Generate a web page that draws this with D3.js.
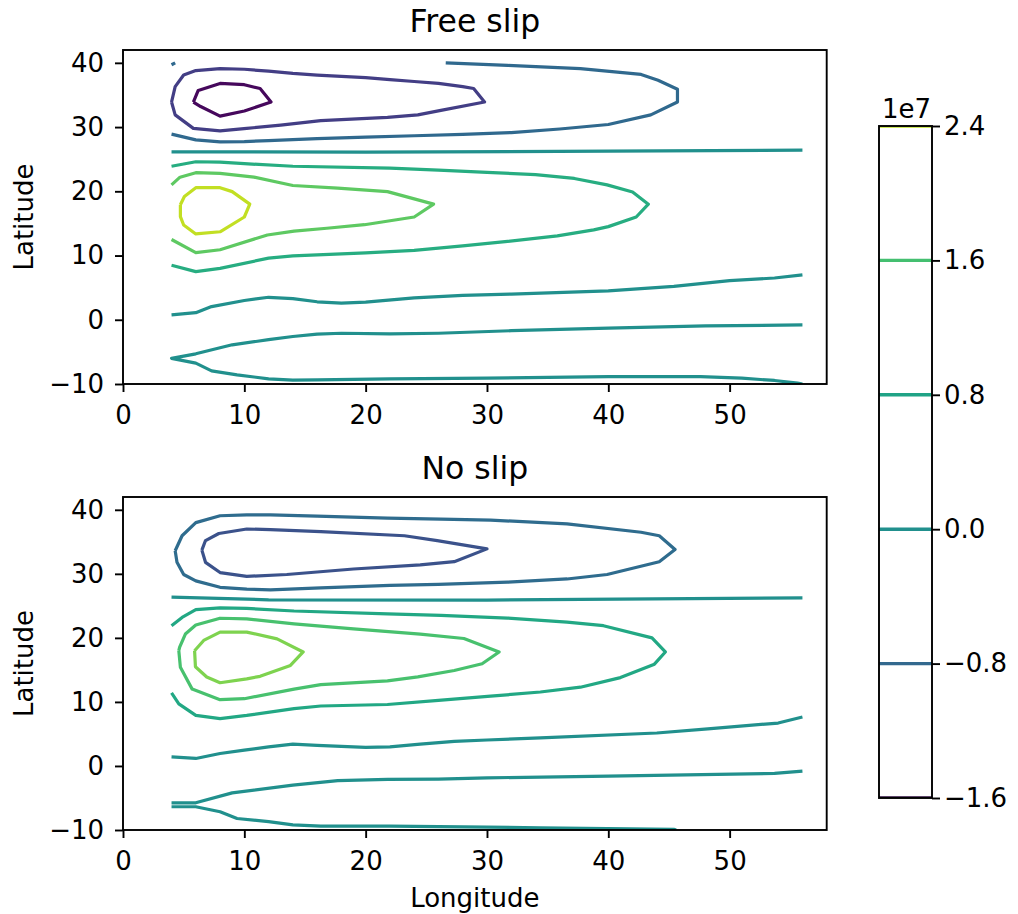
<!DOCTYPE html>
<html><head><meta charset="utf-8">
<script src="https://cdn.jsdelivr.net/npm/d3@7"></script>
<style>
html,body{margin:0;padding:0;background:#fff;}
svg{display:block;}
text{font-family:"DejaVu Sans",sans-serif;fill:#000;}
</style></head>
<body>
<svg id="chart" width="1018" height="914"></svg>
<script>
// ---------------- data ----------------
const xTicks = [0, 10, 20, 30, 40, 50];
const yTicks = [-10, 0, 10, 20, 30, 40];
const cbTicks = [-1.6, -0.8, 0.0, 0.8, 1.6, 2.4];   // x 1e7
const cbLevels = [-1.6, -0.8, 0.0, 0.8, 1.6, 2.4];
const titles = ["Free slip", "No slip"];

// Free slip contour lines [longitude, latitude]
const fsM16 = [[5.8,33.9],[6.2,35.7],[8,36.8],[10,36.6],[11.3,36.0],[12.2,33.9],[10,32.5],[8,31.7],[6.4,33.2],[5.8,33.9]];
const fsM12 = [[4.0,33.9],[4.3,36.3],[5.0,38.1],[6,38.8],[8,39.1],[10,39.0],[12,38.7],[14,38.35],[16,38.1],[18,37.9],[20,37.7],[22,37.4],[24,37.1],[26,36.8],[28,36.3],[28.9,36.0],[29.8,33.9],[26.2,32.6],[24.3,31.9],[21.8,31.5],[16.3,31.0],[13,30.3],[10.2,29.8],[8,29.4],[5.8,29.8],[4.3,31.9],[4.0,33.9]];
const fsM08 = [[4,28.9],[6,28.0],[8,27.7],[10,27.75],[12,27.9],[16,28.2],[20,28.45],[24,28.65],[28,28.85],[32,29.15],[36,29.7],[40,30.4],[43.5,31.9],[45.7,33.9],[45.7,35.9],[44.1,37.3],[42.7,38.2],[37.7,39.1],[31.7,39.6],[26.6,40]];
const fsM08b = [[4,39.7],[4.3,40]];
const fsZ0a = [[4,26.15],[20,26.1],[40,26.25],[56,26.4]];
const fsP08 = [[4,23.9],[6,24.6],[8,24.55],[10,24.3],[14,23.9],[22,23.6],[26,23.3],[30,22.95],[34,22.6],[37.2,22.0],[39.9,21.0],[42,19.9],[43.3,18],[42.3,16],[40,14.5],[38.8,14.0],[35.8,13.05],[31.7,12.2],[28,11.5],[24,10.8],[20,10.4],[14,9.95],[12,9.6],[8,8.0],[6,7.5],[4,8.5]];
const fsP16 = [[4,21],[4.7,22.2],[6,22.9],[8,22.8],[10.8,22.2],[14,20.9],[17.7,20.5],[21.8,19.95],[25.6,18],[24,16],[19.9,14.8],[16.8,14.25],[14.1,13.8],[11.9,13.2],[8,10.9],[6,10.45],[4,12.5]];
const fsP24 = [[4.73,17.9],[5.06,19.2],[6,20.56],[8,20.56],[9,19.95],[10.45,18],[10,16],[8,13.7],[6,13.36],[5,14.76],[4.73,16.05],[4.73,17.9]];
const fsZ0b = [[4,0.76],[6,1.1],[7.3,2.05],[10,3.0],[12,3.5],[14,3.3],[16,2.8],[18,2.58],[20,2.74],[24,3.4],[28,3.8],[32,4.0],[40,4.5],[45.4,5.2],[50,6.1],[53.7,6.5],[56,7.0]];
const fsZ0c = [[56,-0.8],[48,-0.95],[40,-1.3],[32,-1.7],[26,-2.1],[22,-2.2],[18,-2.1],[16,-2.24],[14,-2.6],[12,-3.1],[9,-3.9],[6,-5.3],[4,-6],[6,-6.75],[7.3,-7.95],[9.4,-8.57],[12,-9.2],[14,-9.4],[16,-9.35],[22,-9.2],[30,-9.1],[40,-8.85],[47.6,-8.85],[51,-9.1],[53.7,-9.45],[55.6,-9.87],[56,-10]];

// No slip contour lines
const nsM12 = [[6.5,33.7],[6.8,35.2],[7.9,36.3],[10.2,37.0],[12.15,36.9],[16.3,36.6],[23.2,35.95],[25.9,35.2],[30,33.9],[27.3,31.9],[24.5,31.4],[19,30.76],[13.5,29.9],[10.2,29.6],[8,30.2],[6.8,31.8],[6.5,33.7]];
const nsM08 = [[4.3,33.6],[4.87,35.95],[6,38.0],[8,39.07],[10.2,39.2],[12.15,39.2],[16,39.0],[21.8,38.7],[26.2,38.55],[30.3,38.4],[36.6,37.8],[42.7,36.5],[44.2,35.95],[45.5,33.8],[44.2,31.9],[39.9,29.9],[36.6,29.2],[31.7,28.7],[26,28.35],[22,28.2],[16.3,27.8],[12.15,27.5],[10.2,27.6],[8,27.9],[6,28.9],[5,29.9],[4.45,31.8],[4.3,33.6]];
const nsZ0a = [[4,26.35],[12,25.95],[30,25.9],[56,26.25]];
const nsP08 = [[4,21.9],[4.87,23.2],[6,24.4],[8,24.7],[10.2,24.6],[14.1,24.2],[21.8,23.75],[26.2,23.5],[31.7,23.1],[36.6,22.45],[39.6,21.9],[43.6,20.0],[44.7,17.8],[43.8,15.9],[41,13.8],[37.7,12.3],[34.4,11.55],[30.3,10.9],[26,10.25],[21.8,9.6],[16.3,9.36],[14.1,8.96],[10.2,7.9],[8,7.4],[6,7.9],[4.6,9.7],[4,11.4]];
const nsP16 = [[4.6,18.0],[4.67,18.55],[5.14,20.6],[6,22.0],[8,23.07],[10.2,22.97],[14.1,22.2],[19,21.4],[24.5,20.6],[28.1,19.9],[31,17.8],[29.6,15.96],[27.3,14.9],[24.3,13.9],[21.8,13.3],[16.3,12.7],[14.1,12.0],[10,10.5],[8,10.35],[5.7,12.0],[4.73,15.4],[4.6,18.0]];
const nsP20 = [[5.9,18.0],[6.65,19.6],[8,20.9],[10.2,20.9],[12.7,19.85],[14.85,17.8],[13.8,15.7],[11.3,14.0],[10.2,13.6],[8,13.0],[6.9,13.9],[5.97,15.5],[5.9,18.0]];
const nsZ0b = [[4,1.42],[6,1.17],[8,1.95],[10,2.46],[12,2.98],[14,3.4],[16,3.2],[20,2.9],[22,2.98],[24.5,3.4],[27.3,3.85],[30,4.05],[34.4,4.4],[44,5.15],[48.2,5.8],[54,6.7],[56,7.65]];
const nsZ0c = [[4,-5.75],[6,-5.75],[9,-4.2],[14,-3.0],[17.7,-2.3],[21.8,-2.1],[26,-2.05],[30,-1.85],[40,-1.6],[53.7,-1.17],[56,-0.8]];
const nsZ0d = [[4,-6.37],[6,-6.37],[8,-7.15],[9.4,-8.2],[12,-8.7],[14,-9.2],[16.3,-9.4],[22,-9.4],[30,-9.55],[34.4,-9.65],[45.4,-9.9],[45.6,-10]];

// level of each line
const freeLines = [
  {level:-1.6, pts:fsM16}, {level:-1.2, pts:fsM12}, {level:-0.8, pts:fsM08}, {level:-0.8, pts:fsM08b},
  {level:0, pts:fsZ0a}, {level:0.8, pts:fsP08}, {level:1.6, pts:fsP16}, {level:2.4, pts:fsP24},
  {level:0, pts:fsZ0b}, {level:0, pts:fsZ0c}
];
const noLines = [
  {level:-1.2, pts:nsM12}, {level:-0.8, pts:nsM08}, {level:0, pts:nsZ0a}, {level:0.8, pts:nsP08},
  {level:1.6, pts:nsP16}, {level:2.0, pts:nsP20}, {level:0, pts:nsZ0b}, {level:0, pts:nsZ0c}, {level:0, pts:nsZ0d}
];

// ---------------- styles ----------------
const freeColor = d3.scaleOrdinal([-1.6,-1.2,-0.8,0,0.8,1.6,2.4],
  ["#46085c","#433e85","#30698e","#21908d","#27ad81","#5ec962","#c2df23"]);
const noColor = d3.scaleOrdinal([-1.2,-0.8,0,0.8,1.6,2.0],
  ["#3b528b","#2f6c8e","#21908d","#22a884","#48c16e","#7ed34f"]);
const cbColor = d3.scaleOrdinal(cbLevels,
  ["#2a0a3a","#33698e","#21908d","#20a386","#44bf70","#bddf26"]);

const FS = 26, TFS = 31.5, LW = 3.2;
const svg = d3.select("#chart");
const x = d3.scaleLinear([0, 58], [123, 826.7]);
const panels = [
  {title: titles[0], y: d3.scaleLinear([-10, 42], [384, 50]), lines: freeLines, color: freeColor, xlabel:false},
  {title: titles[1], y: d3.scaleLinear([-10, 42], [830, 497]), lines: noLines, color: noColor, xlabel:true}
];
const fmt = d => (d < 0 ? "\u2212" : "") + Math.abs(d);

panels.forEach((p, i) => {
  const [y0, y1] = p.y.range(); // bottom, top
  const g = svg.append("g");
  const cid = "clip" + i;
  svg.append("defs").append("clipPath").attr("id", cid)
    .append("rect").attr("x", x(0)).attr("y", y1).attr("width", x(58) - x(0)).attr("height", y0 - y1);
  const line = d3.line().x(d => x(d[0])).y(d => p.y(d[1]));
  g.append("g").attr("clip-path", `url(#${cid})`)
    .selectAll("path").data(p.lines).join("path")
    .attr("d", d => line(d.pts))
    .attr("fill", "none")
    .attr("stroke", d => p.color(d.level))
    .attr("stroke-width", LW)
    .attr("stroke-linejoin", "round")
    .attr("stroke-linecap", "butt");

  // axes
  const ax = g.append("g").attr("transform", `translate(0,${y0})`)
    .call(d3.axisBottom(x).tickValues(xTicks).tickFormat(fmt).tickSize(8).tickPadding(13.5).tickSizeOuter(0));
  const ay = g.append("g").attr("transform", `translate(${x(0)},0)`)
    .call(d3.axisLeft(p.y).tickValues(yTicks).tickFormat(fmt).tickSize(8).tickPadding(11).tickSizeOuter(0));
  [ax, ay].forEach(a => {
    a.select(".domain").remove();
    a.selectAll(".tick line").attr("stroke", "#000").attr("stroke-width", 1.9);
    a.selectAll(".tick text").attr("font-size", FS).attr("font-family", "DejaVu Sans").attr("fill", "#000");
  });
  // frame
  g.append("rect").attr("x", x(0)).attr("y", y1).attr("width", x(58) - x(0)).attr("height", y0 - y1)
    .attr("fill", "none").attr("stroke", "#000").attr("stroke-width", 1.9);
  // title
  g.append("text").attr("x", (x(0) + x(58)) / 2).attr("y", y1 - 17.7)
    .attr("text-anchor", "middle").attr("font-size", TFS).text(p.title);
  // y label
  g.append("text").attr("transform", `translate(33,${(y0 + y1) / 2}) rotate(-90)`)
    .attr("text-anchor", "middle").attr("font-size", FS).text("Latitude");
  if (p.xlabel) {
    g.append("text").attr("x", (x(0) + x(58)) / 2).attr("y", 906.5)
      .attr("text-anchor", "middle").attr("font-size", FS).text("Longitude");
  }
});

// colorbar
const cbX0 = 879, cbX1 = 932;
const cb = d3.scaleLinear([-1.6, 2.4], [798, 126]);
const cg = svg.append("g");
svg.append("defs").append("clipPath").attr("id", "cbclip")
  .append("rect").attr("x", cbX0).attr("y", 126).attr("width", cbX1 - cbX0).attr("height", 798 - 126);
cg.append("g").attr("clip-path", "url(#cbclip)")
  .selectAll("line").data(cbLevels).join("line")
  .attr("x1", cbX0).attr("x2", cbX1)
  .attr("y1", d => cb(d)).attr("y2", d => cb(d))
  .attr("stroke", d => cbColor(d)).attr("stroke-width", 3.4);
const cax = cg.append("g").attr("transform", `translate(${cbX1},0)`)
  .call(d3.axisRight(cb).tickValues(cbTicks).tickFormat(d => (d < 0 ? "\u2212" : "") + Math.abs(d).toFixed(1)).tickSize(8).tickPadding(4).tickSizeOuter(0));
cax.select(".domain").remove();
cax.selectAll(".tick line").attr("stroke", "#000").attr("stroke-width", 1.9);
cax.selectAll(".tick text").attr("font-size", FS).attr("font-family", "DejaVu Sans").attr("fill", "#000");
cg.append("rect").attr("x", cbX0).attr("y", 126).attr("width", cbX1 - cbX0).attr("height", 798 - 126)
  .attr("fill", "none").attr("stroke", "#000").attr("stroke-width", 1.9);
cg.append("text").attr("x", (cbX0 + cbX1) / 2 + 1).attr("y", 117.5).attr("text-anchor", "middle")
  .attr("font-size", FS).text("1e7");
</script>
</body></html>
